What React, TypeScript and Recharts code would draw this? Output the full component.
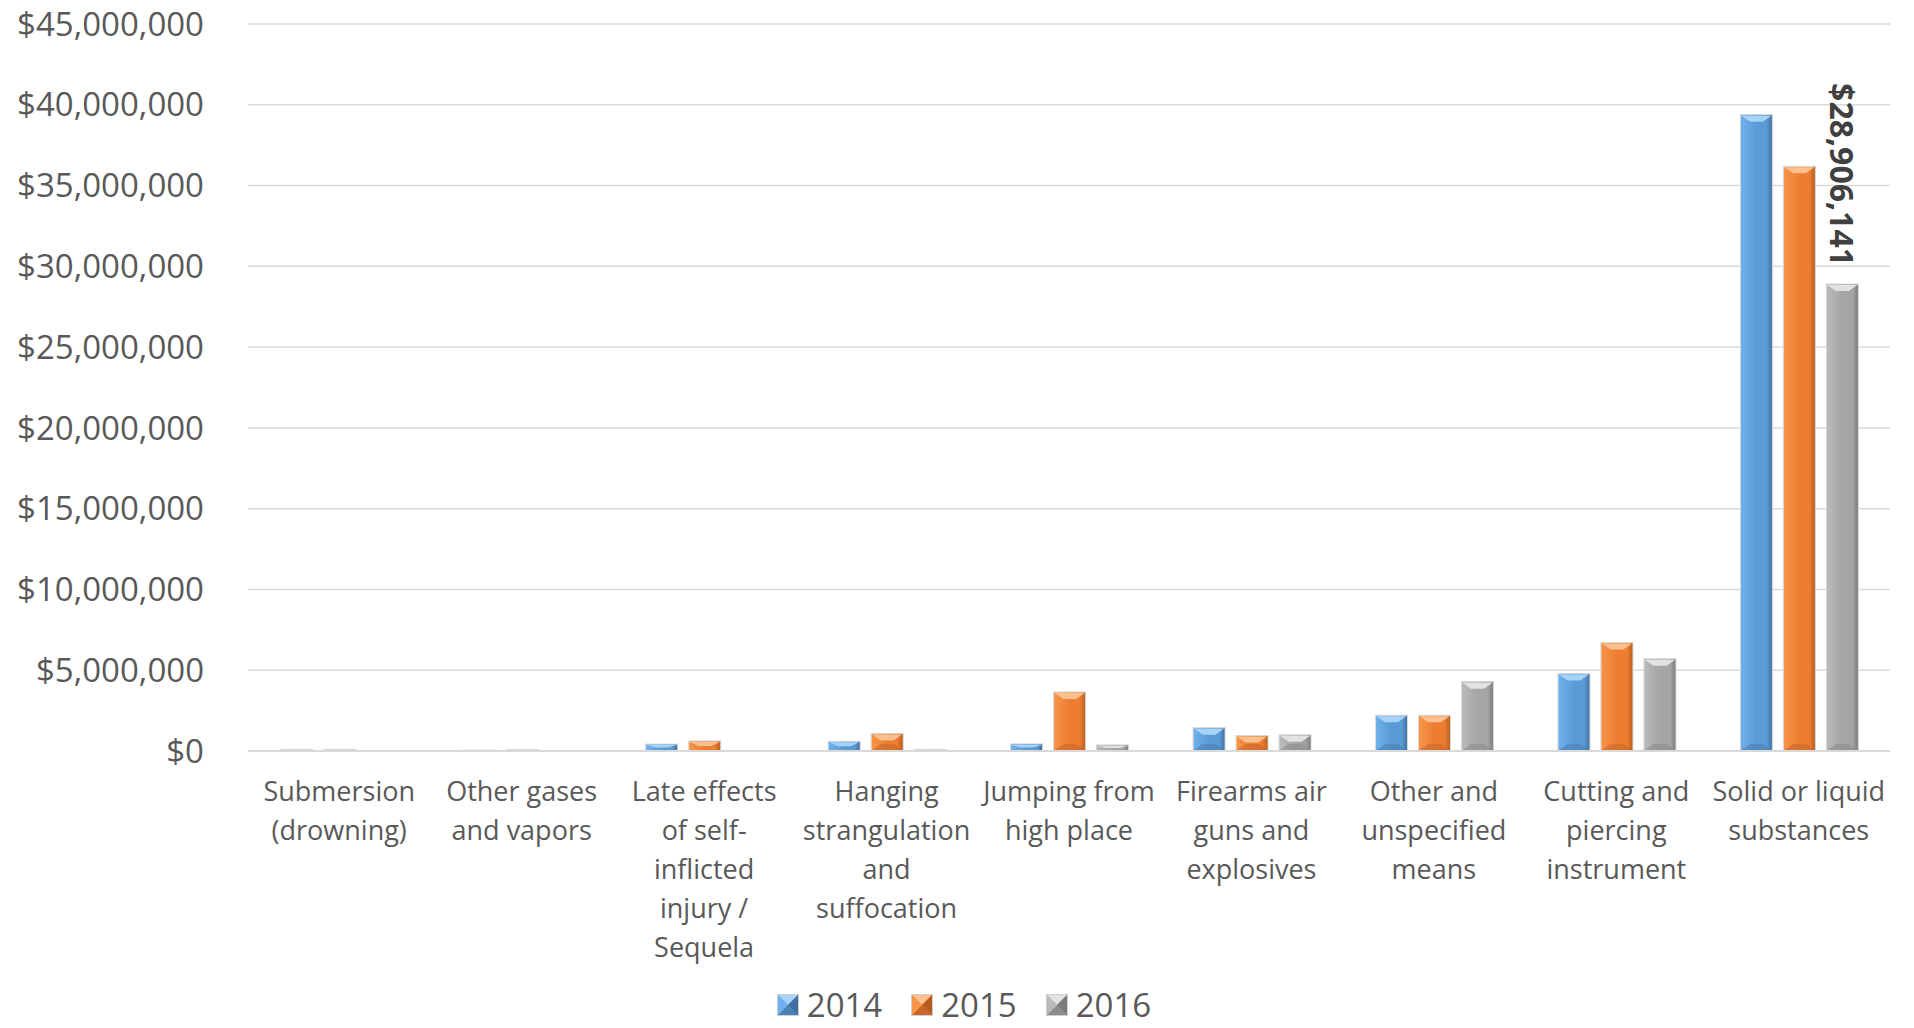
import React from "react";
import { BarChart, Bar, XAxis, YAxis, CartesianGrid, Legend, LabelList } from "recharts";

const categories = [
  "Submersion\n(drowning)",
  "Other gases\nand vapors",
  "Late effects\nof self-\ninflicted\ninjury /\nSequela",
  "Hanging\nstrangulation\nand\nsuffocation",
  "Jumping from\nhigh place",
  "Firearms air\nguns and\nexplosives",
  "Other and\nunspecified\nmeans",
  "Cutting and\npiercing\ninstrument",
  "Solid or liquid\nsubstances",
];

const values2014 = [100000, 60000, 430000, 600000, 440000, 1440000, 2210000, 4790000, 39390000];
const values2015 = [100000, 80000, 620000, 1090000, 3650000, 960000, 2210000, 6710000, 36190000];
const values2016 = [0, 20000, 20000, 100000, 375000, 1000000, 4290000, 5710000, 28906141];

const yTicks = [0, 5000000, 10000000, 15000000, 20000000, 25000000, 30000000, 35000000, 40000000, 45000000];
const seriesNames = ["2014", "2015", "2016"];
const labelledIndex2016 = 8;

const palettes = [
  { id: "g2014", light: "#6FB1EE", base: "#5B9BD5", dark: "#3E6F9E", top: "#A6D3F7", bottom: "#4A80B2" },
  { id: "g2015", light: "#F7954A", base: "#ED7D31", dark: "#B65C1F", top: "#FCC08E", bottom: "#C9672A" },
  { id: "g2016", light: "#BBBBBB", base: "#A5A5A5", dark: "#7A7A7A", top: "#E2E2E2", bottom: "#8C8C8C" },
];

const data = categories.map((c, i) => ({
  name: c,
  v2014: values2014[i],
  v2015: values2015[i],
  v2016: values2016[i],
}));

const fmtMoney = (v: number) => "$" + Math.round(v).toLocaleString("en-US");

const FONT = "'Open Sans', sans-serif";
const TEXT = "#595959";

function BevelBar(props: any) {
  const { x, y, width, height, pal } = props;
  if (!height || height <= 0 || !width) return null;
  const b = Math.min(7, height / 2);
  const inset = width * 0.3;
  return (
    <g>
      <rect x={x} y={y} width={width} height={height} fill={`url(#${pal.id})`} stroke="#d9d9d9" strokeWidth={1} />
      <polygon
        points={`${x + 1},${y + 1} ${x + width - 1},${y + 1} ${x + width - inset},${y + b} ${x + inset},${y + b}`}
        fill={pal.top}
      />
      {height > 12 && (
        <polygon
          points={`${x + 1},${y + height - 1} ${x + width - 1},${y + height - 1} ${x + width - inset},${y + height - b} ${x + inset},${y + height - b}`}
          fill={pal.bottom}
          opacity={0.6}
        />
      )}
    </g>
  );
}

function CategoryTick(props: any) {
  const { x, y, payload } = props;
  const lines = String(payload.value).split("\n");
  return (
    <g>
      {lines.map((ln, i) => (
        <text
          key={i}
          x={x}
          y={y + 37 + i * 39}
          textAnchor="middle"
          dominantBaseline="central"
          fontFamily={FONT}
          fontSize={27}
          fill={TEXT}
        >
          {ln}
        </text>
      ))}
    </g>
  );
}

function LegendIcon({ pal }: any) {
  return (
    <svg width={22} height={22} style={{ display: "block" }}>
      <rect x={0.5} y={0.5} width={21} height={21} fill={pal.base} stroke="#cfcfcf" />
      <polygon points="1,1 21,1 11,11" fill={pal.top} />
      <polygon points="21,1 21,21 11,11" fill={pal.dark} />
      <polygon points="1,21 21,21 11,11" fill={pal.bottom} />
      <polygon points="1,1 1,21 11,11" fill={pal.light} />
    </svg>
  );
}

function LegendContent() {
  return (
    <div
      style={{
        height: 50,
        width: 1914,
        boxSizing: "border-box",
        paddingTop: 12,
        paddingBottom: 8,
        paddingLeft: 14,
        display: "flex",
        justifyContent: "center",
        alignItems: "center",
      }}
    >
      {seriesNames.map((n, i) => (
        <div key={n} style={{ display: "flex", alignItems: "center", marginRight: i < 2 ? 29 : 0, height: 26 }}>
          <LegendIcon pal={palettes[i]} />
          <span style={{ marginLeft: 8, fontFamily: FONT, fontSize: 33, color: TEXT, lineHeight: "26px" }}>{n}</span>
        </div>
      ))}
    </div>
  );
}

function ValueLabel(props: any) {
  const { x, y, width, value, index } = props;
  if (index !== labelledIndex2016) return null;
  const cx = x + width / 2;
  const ay = y - 18;
  return (
    <text
      x={cx}
      y={ay}
      textAnchor="end"
      dominantBaseline="central"
      transform={`rotate(90, ${cx}, ${ay})`}
      fontFamily={FONT}
      fontWeight={700}
      fontSize={32}
      fill="#404040"
    >
      {fmtMoney(value)}
    </text>
  );
}

export default function App() {
  return (
    <div style={{ position: "absolute", left: 0, top: 0, width: 1914, height: 1028, background: "#fff", overflow: "hidden" }}>
      <BarChart
        width={1914}
        height={1028}
        data={data}
        margin={{ top: 24, right: 24, bottom: 0, left: 0 }}
        barCategoryGap="18%"
        barGap={11}
      >
        <defs>
          {palettes.map((p) => (
            <linearGradient key={p.id} id={p.id} x1="0" y1="0" x2="1" y2="0">
              <stop offset="0%" stopColor={p.light} />
              <stop offset="50%" stopColor={p.base} />
              <stop offset="82%" stopColor={p.base} />
              <stop offset="100%" stopColor={p.dark} />
            </linearGradient>
          ))}
        </defs>
        <CartesianGrid vertical={false} stroke="#d9d9d9" strokeWidth={1.5} />
        <XAxis
          dataKey="name"
          interval={0}
          height={227}
          tickLine={false}
          tickSize={0}
          axisLine={{ stroke: "#d9d9d9", strokeWidth: 2 }}
          tick={<CategoryTick />}
        />
        <YAxis
          width={248}
          domain={[0, 45000000]}
          ticks={yTicks}
          axisLine={false}
          tickLine={false}
          tickSize={0}
          tickMargin={44}
          tickFormatter={fmtMoney}
          tick={{ fontFamily: FONT, fontSize: 33, fill: TEXT }}
        />
        <Legend
          verticalAlign="bottom"
          content={<LegendContent />}
          wrapperStyle={{ left: 0, width: 1914 }}
        />
        <Bar
          dataKey="v2014"
          name="2014"
          fill={palettes[0].base}
          isAnimationActive={false}
          shape={(p: any) => <BevelBar {...p} pal={palettes[0]} />}
        />
        <Bar
          dataKey="v2015"
          name="2015"
          fill={palettes[1].base}
          isAnimationActive={false}
          shape={(p: any) => <BevelBar {...p} pal={palettes[1]} />}
        />
        <Bar
          dataKey="v2016"
          name="2016"
          fill={palettes[2].base}
          isAnimationActive={false}
          shape={(p: any) => <BevelBar {...p} pal={palettes[2]} />}
        >
          <LabelList dataKey="v2016" content={<ValueLabel />} />
        </Bar>
      </BarChart>
    </div>
  );
}
